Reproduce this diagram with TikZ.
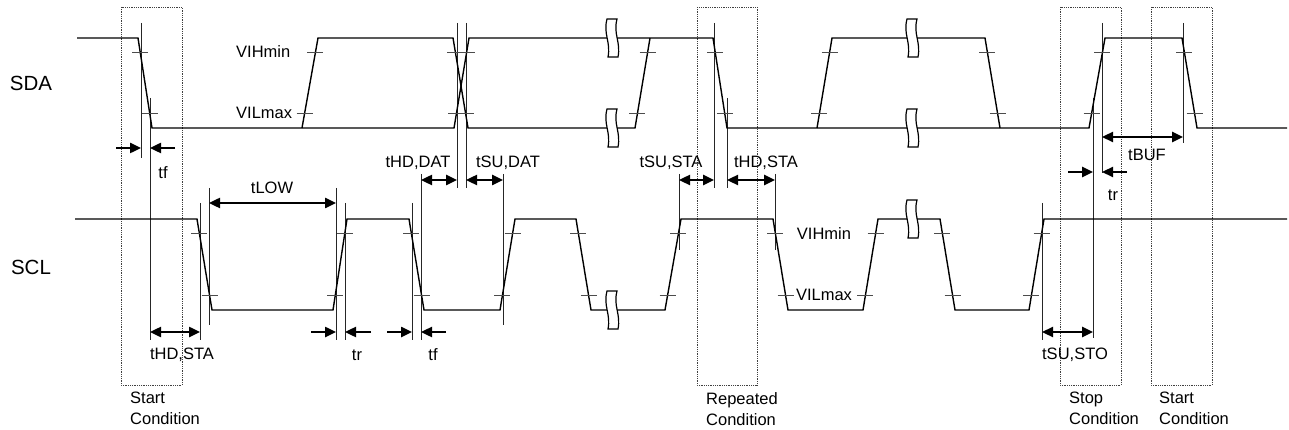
\documentclass[tikz,border=0pt]{standalone}
\usepackage{fontspec}
\setmainfont{Liberation Sans}
\usetikzlibrary{calc, arrows.meta}

\begin{document}
\begin{tikzpicture}[x=1pt, y=-1pt,
    sigline/.style={line width=1.4pt},
    tickmark/.style={line width=0.8pt, black!70},
    refline/.style={line width=0.8pt, black!85},
    dimarrow/.style={line width=2.4pt, {Triangle[length=11pt,width=10pt]}-{Triangle[length=11pt,width=10pt]}},
    onearrow/.style={line width=2.4pt, -{Triangle[length=11pt,width=10pt]}},
    condbox/.style={line width=0.8pt, black!75, densely dotted},
    breakmark/.style={line width=1.2pt, fill=white},
    lbl/.style={inner sep=0pt, font=\fontsize{16.5}{21}\selectfont},
    signame/.style={inner sep=0pt, font=\fontsize{20.5}{24}\selectfont}]
    \useasboundingbox (0,0) rectangle (1289,430);

    % condition windows
    \foreach\xa/\xb in {121/182, 697/757, 1060/1121, 1151/1212}
        \draw[condbox] (\xa,7) rectangle (\xb,385);

    % reference lines
    \foreach\x/\ya/\yb in {141/23/158, 150/98/340, 200/203/340, 209/188/325,
        336/188/340, 345/203/340, 412/203/340, 421/174/340, 457/23/188,
        466/23/188, 503/174/325, 679/174/250, 714/23/188, 727/98/188,
        775/174/250, 1042/203/340, 1093/98/338, 1102/23/173, 1183/23/143}
        \draw[refline] (\x,\ya) -- (\x,\yb);

    % SDA
    \draw[sigline] (77,38) -- (138,38) -- (152,128) -- (454,128) -- (469,38)
        -- (713,38) -- (727,128) -- (1089,128) -- (1105,38) -- (1182,38)
        -- (1197,128) -- (1287,128);
    \draw[sigline] (302,128) -- (318,38) -- (453,38) -- (468,128) -- (635,128) -- (650,38);
    \draw[sigline] (817,128) -- (832,38) -- (985,38) -- (1000,128);
    \foreach\xh/\xl in {138/152, 318/302, 453/468, 469/454, 650/635,
        713/727, 832/817, 985/1000, 1105/1089, 1182/1197}
    {
        \draw[tickmark] ($(\xh,38)!0.16!(\xl,128)$) +(-8,0) -- +(8,0);
        \draw[tickmark] ($(\xh,38)!0.84!(\xl,128)$) +(-8,0) -- +(8,0);
    }

    % SCL
    \draw[sigline] (75,219) -- (197,219) -- (212,310) -- (333,310) -- (347,219)
        -- (409,219) -- (424,310) -- (500,310) -- (515,219) -- (576,219)
        -- (591,310) -- (665,310) -- (681,219) -- (773,219) -- (788,310)
        -- (863,310) -- (878,219) -- (940,219) -- (955,310) -- (1029,310)
        -- (1044,219) -- (1287,219);
    \foreach\xh/\xl in {197/212, 347/333, 409/424, 515/500, 576/591,
        681/665, 773/788, 878/863, 940/955, 1044/1029}
    {
        \draw[tickmark] ($(\xh,219)!0.16!(\xl,310)$) +(-8,0) -- +(8,0);
        \draw[tickmark] ($(\xh,219)!0.84!(\xl,310)$) +(-8,0) -- +(8,0);
    }

    % breaks
    \foreach\x/\y in {612/38, 612/128, 912/38, 912/128, 612/310, 912/219}
        \draw[breakmark] (\x-5,\y-19) -- (\x+5,\y-19)
            .. controls (\x+1,\y-4) and (\x+9,\y+4) .. (\x+6,\y+19)
            -- (\x-4,\y+19)
            .. controls (\x-1,\y+4) and (\x-9,\y-4) .. (\x-5,\y-19) -- cycle;

    % timing arrows
    \draw[onearrow] (116,148) -- (141,148);
    \draw[onearrow] (175,148) -- (150,148);
    \draw[dimarrow] (150,332) -- (200,332);
    \draw[dimarrow] (209,203) -- (336,203);
    \draw[onearrow] (311,332) -- (336,332);
    \draw[onearrow] (371,332) -- (345,332);
    \draw[onearrow] (387,332) -- (412,332);
    \draw[onearrow] (446,332) -- (421,332);
    \draw[dimarrow] (421,180) -- (457,180);
    \draw[dimarrow] (466,180) -- (503,180);
    \draw[dimarrow] (679,180) -- (714,180);
    \draw[dimarrow] (727,180) -- (775,180);
    \draw[dimarrow] (1042,332) -- (1093,332);
    \draw[onearrow] (1068,172) -- (1093,172);
    \draw[onearrow] (1127,172) -- (1102,172);
    \draw[dimarrow] (1102,137) -- (1183,137);

    % labels
    \node[signame] (sda) at (31,83) {SDA};
    \node[signame] (scl) at (31,267) {SCL};
    \node[lbl, anchor=west] (vihsda) at (236,52) {VIHmin};
    \node[lbl, anchor=west] (vilsda) at (236,113) {VILmax};
    \node[lbl] (vihscl) at (824,234) {VIHmin};
    \node[lbl] (vilscl) at (824,295) {VILmax};
    \node[lbl] (tfa) at (163,173) {tf};
    \node[lbl] (thdsta) at (182,355) {tHD,STA};
    \node[lbl] (tlow) at (272,188) {tLOW};
    \node[lbl] (tra) at (357,355) {tr};
    \node[lbl] (tfb) at (433,355) {tf};
    \node[lbl] (thddat) at (418,163) {tHD,DAT};
    \node[lbl] (tsudat) at (508,163) {tSU,DAT};
    \node[lbl] (tsusta) at (671,163) {tSU,STA};
    \node[lbl] (thdstb) at (766,163) {tHD,STA};
    \node[lbl] (tsusto) at (1075,355) {tSU,STO};
    \node[lbl] (trb) at (1113,195) {tr};
    \node[lbl] (tbuf) at (1147,155) {tBUF};
    \node[lbl, align=left, anchor=north west] (startc) at (130,392) {Start\\Condition};
    \node[lbl, align=left, anchor=north west] (repc) at (706,392) {Repeated\\Condition};
    \node[lbl, align=left, anchor=north west] (stopc) at (1069,392) {Stop\\Condition};
    \node[lbl, align=left, anchor=north west] (startd) at (1159,392) {Start\\Condition};
\end{tikzpicture}
\end{document}
